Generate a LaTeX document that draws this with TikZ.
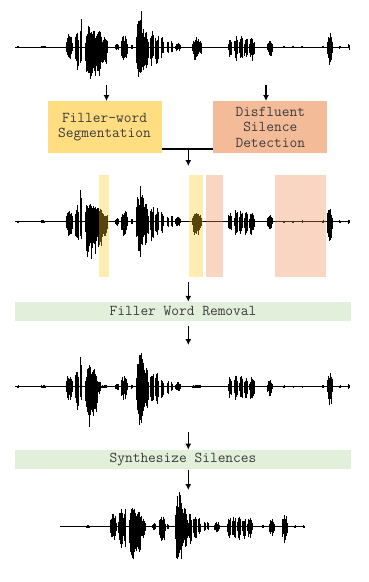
\documentclass[tikz,border=0pt]{standalone}
\usepackage{fontspec}
\usetikzlibrary{arrows.meta,positioning}
\definecolor{softyellow}{RGB}{255,221,128}
\definecolor{softsalmon}{RGB}{244,187,152}
\definecolor{softgreen}{RGB}{226,239,218}
\definecolor{markyellow}{RGB}{255,200,30}
\definecolor{marksalmon}{RGB}{238,138,78}
\definecolor{labelgray}{RGB}{60,60,60}

\tikzset{
  procbox/.style={inner sep=0pt, align=center, text=labelgray,
    font=\ttfamily\fontsize{15}{15.5}\selectfont},
  stagebar/.style={fill=softgreen, inner sep=0pt, minimum width=336pt, text=labelgray,
    font=\ttfamily\fontsize{15}{15.5}\selectfont},
  flowarrow/.style={-{Latex[length=6pt,width=6pt]}, line width=1.2pt},
  wavestroke/.style={line width=0.7pt, black},
  markband/.style={fill opacity=0.35}
}

% one waveform: list of bursts  centre/halfwidth/up/down
\newcommand\wavebursts[1]{%
  \foreach \cx/\hw/\au/\ad in #1 {%
    \pgfmathsetmacro\hh{1.35*\hw}%
    \pgfmathtruncatemacro\nl{max(2,round(2*\hh/0.5))}%
    \foreach \i in {0,...,\nl} {%
      \pgfmathsetmacro\xx{\cx-\hh+2*\hh*\i/\nl}%
      \pgfmathsetmacro\rr{(\xx-\cx)/\hh}%
      \pgfmathsetmacro\ev{sqrt(max(0,1-\rr*\rr))}%
      \pgfmathsetmacro\up{max(0.5,\au*\ev*(0.4+0.6*rnd))}%
      \pgfmathsetmacro\dn{max(0.5,\ad*\ev*(0.4+0.6*rnd))}%
      \draw[wavestroke] (\xx,-\up) -- (\xx,\dn);
    }%
  }%
}

\def\burstsfull{18/1/1.5/1.5, 43/2/1.5/1.5, 69/2.5/14/15, 77/1.5/18/24, 81/0.6/34/22,
  89/3/22/43, 94/3/18/35, 99/3/18/30, 104/3/10/20, 117/1.5/4/4, 124/2.5/12/15, 132/1/3/3,
  140/3/37/40, 146/2/20/25, 152/1.5/18/20, 157/1.5/15/18, 162/1.2/10/12,
  168/1/7/8, 172/1/7/7, 178/2/5/5, 197/3.5/10/15,
  230/1.5/10/12, 236/1.5/12/15, 241/1.5/12/15, 246/1.5/10/14, 252/2/10/14,
  270/2/7/10, 284/0.8/1.5/1.5, 293/0.8/1.5/1.5, 302/0.8/1.5/1.5, 323/0.5/1.5/1.5,
  330/2/15/20, 340/0.5/2/2, 349/0.5/3/3}
\def\burstscut{18/1/1.5/1.5, 43/2/1.5/1.5, 69/2.5/14/15, 77/1.5/18/24, 81/0.6/34/22,
  89/3/22/43, 94/3/18/35, 99/1.5/6/8, 104/3/1.5/1.5, 117/1.5/4/4, 124/2.5/12/15, 132/1/3/3,
  140/3/37/40, 146/2/20/25, 152/1.5/18/20, 157/1.5/15/18, 162/1.2/10/12,
  168/1/7/8, 172/1/7/7, 178/2/5/5, 197/4/2/1.5,
  230/1.5/10/12, 236/1.5/12/15, 241/1.5/12/15, 246/1.5/10/14, 252/2/10/14,
  270/2/7/10, 284/0.8/1.5/1.5, 293/0.8/1.5/1.5, 302/0.8/1.5/1.5, 323/0.5/1.5/1.5,
  330/2/15/20, 340/0.5/2/2, 349/0.5/3/3}
\def\burstsshort{88/1.5/1.5/1.5, 113/2.5/14/14, 121/2/18/22, 125/0.6/34/26,
  133/3/20/38, 138/3/16/30, 143/2/8/12, 154/1.5/4/4, 162/2.5/12/17, 168/1/3/3,
  179/3/37/41, 185/2/20/25, 190/1.5/15/18, 195/1.5/12/14, 199/1.2/9/10,
  205/1/5/5, 208/1/5/5, 217/2/6/6,
  229/1.5/10/12, 234/1.5/12/14, 239/1.5/12/14, 244/1.5/10/13, 250/2/10/13,
  263/0.8/2/2, 272/2/8/10, 285/2/14/18, 295/0.5/1.5/1.5, 304/0.5/2/2}

\begin{document}
\begin{tikzpicture}[>=Latex, x=1pt, y=-1pt]
  \useasboundingbox (0,0) rectangle (369,582);
  \pgfmathsetseed{11}

  % waveforms
  \begin{scope}[shift={(0,47)}]
    \draw[wavestroke] (15,0) -- (350,0);
    \wavebursts{\burstsfull}
  \end{scope}
  \begin{scope}[shift={(0,221.7)}]
    \draw[wavestroke] (15,0) -- (350,0);
    \wavebursts{\burstsfull}
  \end{scope}
  \begin{scope}[shift={(0,386.7)}]
    \draw[wavestroke] (15,0) -- (350,0);
    \wavebursts{\burstscut}
  \end{scope}
  \begin{scope}[shift={(0,526.7)}]
    \draw[wavestroke] (60,0) -- (305,0);
    \wavebursts{\burstsshort}
  \end{scope}

  % detected regions
  \fill[markband, markyellow] (99,175) rectangle (109,276.7);
  \fill[markband, markyellow] (189,175) rectangle (203.3,276.7);
  \fill[markband, marksalmon] (205.7,175) rectangle (223.3,276.7);
  \fill[markband, marksalmon] (275,175) rectangle (325.7,276.7);

  % stages
  \node[procbox, fill=softyellow, minimum width=114pt, minimum height=52pt] (fws) at (104.5,127.2) {Filler-word\\Segmentation};
  \node[procbox, fill=softsalmon, minimum width=114pt, minimum height=52pt] (dsd) at (270.3,127.2) {Disfluent\\Silence\\Detection};
  \node[stagebar, minimum height=18.7pt] (fwr) at (183,311.3) {Filler Word Removal};
  \node[stagebar, minimum height=19.5pt] (syn) at (183,459.6) {Synthesize Silences};

  \coordinate (w1l) at (106.5,85);
  \coordinate (w1r) at (266,85);
  \coordinate (join) at (188.3,149);
  \coordinate (w2in) at (188.3,166);
  \coordinate (w2out) at (188.3,282.3);
  \coordinate (w3in) at (188.3,345);
  \coordinate (w3out) at (188.3,431.7);
  \coordinate (w4in) at (188.3,490);

  \draw[flowarrow] (w1l) -- (w1l |- fws.north);
  \draw[flowarrow] (w1r) -- (w1r |- dsd.north);
  \draw[line width=1.2pt] (fws.east |- join) -- (dsd.west |- join);
  \draw[flowarrow] (join) -- (w2in);
  \draw[flowarrow] (w2out) -- (w2out |- fwr.north);
  \draw[flowarrow] ([yshift=-5pt]fwr.south -| w3in) -- (w3in);
  \draw[flowarrow] (w3out) -- (w3out |- syn.north);
  \draw[flowarrow] (syn.south -| w4in) -- (w4in);
\end{tikzpicture}
\end{document}
